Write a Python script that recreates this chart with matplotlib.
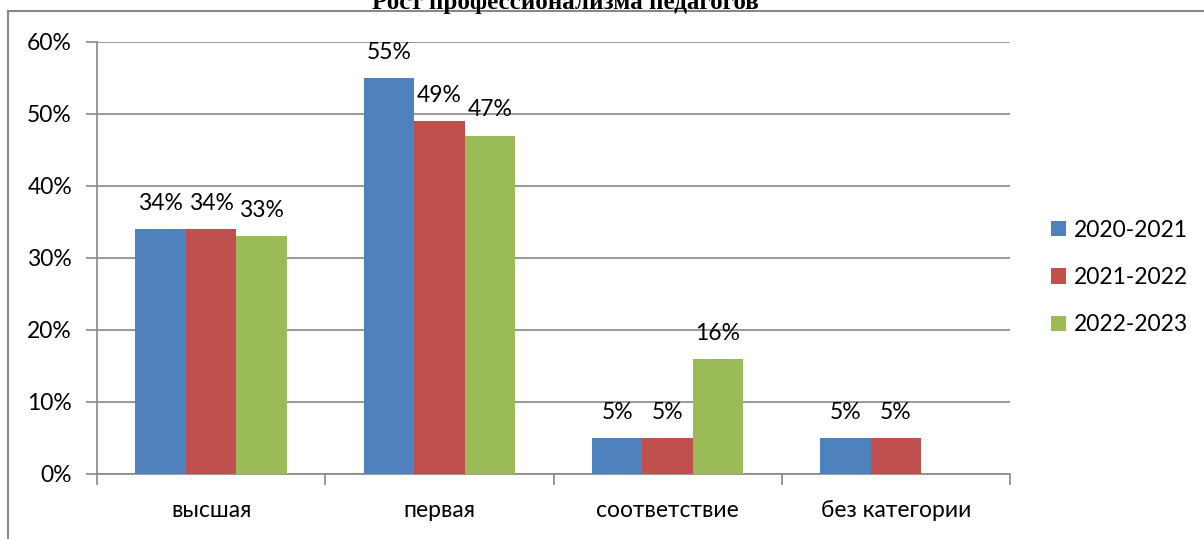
import numpy as np
import matplotlib
matplotlib.use("Agg")
import matplotlib.pyplot as plt
from matplotlib.patches import Rectangle
from matplotlib.ticker import FuncFormatter

categories = ["высшая", "первая", "соответствие", "без категории"]
series_names = ["2020-2021", "2021-2022", "2022-2023"]
v2020 = [34, 55, 5, 5]
v2021 = [34, 49, 5, 5]
v2022 = [33, 47, 16, 0]
colors_list = ["#4F81BD", "#C0504D", "#9BBB59"]
title = "Рост профессионализма педагогов"

plt.rcParams['font.family'] = ['Lato', 'DejaVu Sans']
grid_col = "#888888"
fs = 16.5

fig = plt.figure(figsize=(12.04, 5.39), dpi=100)
ax = fig.add_axes([97 / 1204, 65 / 539, 913 / 1204, 432 / 539])

x = np.arange(len(categories))
w = 0.221
for i, (vals, c, name) in enumerate(zip([v2020, v2021, v2022], colors_list, series_names)):
    pos = x + (i - 1) * w
    ax.bar(pos, vals, w, color=c, label=name, zorder=3)
    for p, v in zip(pos, vals):
        if v > 0:  # zero bar has no label
            ax.annotate(f"{v}%", (p, v), xytext=(0, 18.5), textcoords="offset points",
                        ha="center", va="center", fontsize=fs)

ax.set_xlim(-0.5, len(categories) - 0.5)
ax.set_ylim(0, 60)
ax.set_yticks(range(0, 61, 10))
ax.yaxis.set_major_formatter(FuncFormatter(lambda v, _: f"{int(v)}%"))
ax.set_xticks(np.arange(-0.5, len(categories), 1.0))
ax.set_xticklabels([])
ax.set_xticks(x, minor=True)
ax.set_xticklabels(categories, minor=True)
ax.tick_params(axis="x", which="minor", length=0, labelsize=fs, pad=19)
ax.tick_params(axis="x", which="major", length=8, color=grid_col, width=1.2)
ax.tick_params(axis="y", length=8, color=grid_col, width=1.2, labelsize=fs, pad=10)
ax.yaxis.grid(True, color=grid_col, linewidth=1.2, zorder=0)
for s in ["top", "right"]:
    ax.spines[s].set_visible(False)
for s in ["left", "bottom"]:
    ax.spines[s].set_color(grid_col)
    ax.spines[s].set_linewidth(1.2)

ax.legend(loc="center left", bbox_to_anchor=(1.035, 0.455), frameon=False, fontsize=fs,
          handlelength=0.65, handleheight=0.65, handletextpad=0.35, labelspacing=1.15,
          borderaxespad=0)

# outer chart frame (partially cut off in the reference)
fig.patches.append(Rectangle((8 / 1204, -0.1), 1.2, 1.1 - 11 / 539, transform=fig.transFigure,
                             fill=False, edgecolor=grid_col, linewidth=1.5))
fig.text(565 / 1204, 1 - 9.5 / 539, title, ha="center", va="baseline", fontsize=18,
         fontweight="bold", family="Liberation Serif")

fig.savefig("out.png", dpi=100)
